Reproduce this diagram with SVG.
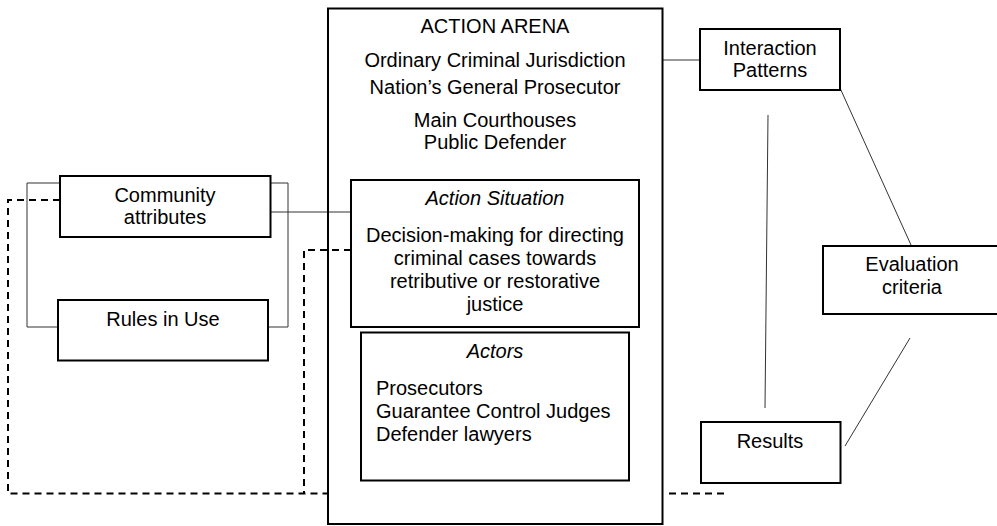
<svg xmlns="http://www.w3.org/2000/svg" width="997" height="526" viewBox="0 0 997 526">
<style>
.box{fill:#fff;stroke:#000;stroke-width:2}
.arena{fill:none;stroke:#000;stroke-width:2}
.t{font-family:"Liberation Sans",Arial,sans-serif;font-size:20px;fill:#000}
.c{text-anchor:middle}
.i{font-style:italic}
.thin{fill:none;stroke:#333;stroke-width:1}
.dash{fill:none;stroke:#000;stroke-width:2;stroke-dasharray:7,5}
</style>
<rect width="997" height="526" fill="#fff"/>
<g id="connectors">
<polyline class="thin" points="60,183 27,183 27,327 58,327"/>
<polyline class="thin" points="270,183 288,183 288,327 268,327"/>
<line class="thin" x1="270" y1="212" x2="351" y2="212"/>
<line class="thin" x1="663" y1="60" x2="700" y2="60"/>
<line class="thin" x1="840" y1="88" x2="911" y2="245"/>
<line class="thin" x1="768" y1="115" x2="765" y2="408"/>
<line class="thin" x1="910" y1="338" x2="845" y2="446"/>
<polyline class="dash" points="60,200 8,200 8,493.5 328,493.5"/>
<polyline class="dash" points="351,250 304,250 304,493.5"/>
<line class="dash" x1="669" y1="493.5" x2="729" y2="493.5"/>
</g>
<g id="action-arena">
<rect class="arena" x="328" y="8.5" width="334.5" height="515.5"/>
<text class="t c" x="495" y="33">ACTION ARENA</text>
<text class="t c" x="495" y="67">Ordinary Criminal Jurisdiction</text>
<text class="t c" x="495" y="94">Nation’s General Prosecutor</text>
<text class="t c" x="495" y="127">Main Courthouses</text>
<text class="t c" x="495" y="149">Public Defender</text>
</g>
<g id="action-situation">
<rect class="box" x="351" y="180" width="288" height="147"/>
<text class="t c i" x="495" y="205">Action Situation</text>
<text class="t c" x="495" y="242">Decision-making for directing</text>
<text class="t c" x="495" y="265">criminal cases towards</text>
<text class="t c" x="495" y="288">retributive or restorative</text>
<text class="t c" x="495" y="311">justice</text>
</g>
<g id="actors">
<rect class="box" x="361" y="332.5" width="268" height="148"/>
<text class="t c i" x="495" y="358">Actors</text>
<text class="t" x="376" y="395">Prosecutors</text>
<text class="t" x="376" y="418">Guarantee Control Judges</text>
<text class="t" x="376" y="441">Defender lawyers</text>
</g>
<g id="community-attributes">
<rect class="box" x="60" y="176" width="210.5" height="61"/>
<text class="t c" x="165" y="202">Community</text>
<text class="t c" x="165" y="224">attributes</text>
</g>
<g id="rules-in-use">
<rect class="box" x="58" y="300" width="210" height="60.5"/>
<text class="t c" x="163" y="326">Rules in Use</text>
</g>
<g id="interaction-patterns">
<rect class="box" x="700" y="29" width="140" height="61"/>
<text class="t c" x="770" y="55">Interaction</text>
<text class="t c" x="770" y="77">Patterns</text>
</g>
<g id="evaluation-criteria">
<rect class="box" x="823" y="246" width="175" height="68"/>
<text class="t c" x="912" y="271">Evaluation</text>
<text class="t c" x="912" y="294">criteria</text>
</g>
<g id="results">
<rect class="box" x="701" y="422" width="139.5" height="61"/>
<text class="t c" x="770" y="448">Results</text>
</g>
</svg>
